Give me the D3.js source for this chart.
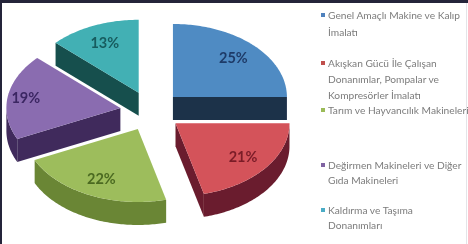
<!DOCTYPE html>
<html>
<head>
<meta charset="utf-8">
<script src="https://cdn.jsdelivr.net/npm/d3@7"></script>
<style>
  html, body { margin: 0; padding: 0; background: #ffffff; }
  svg { display: block; }
</style>
</head>
<body>
<svg id="chart" width="468" height="244"></svg>
<script>
// ---- data ----
const categories = [
  "Genel Amaçlı Makine ve Kalıp İmalatı",
  "Akışkan Gücü İle Çalışan Donanımlar, Pompalar ve Kompresörler İmalatı",
  "Tarım ve Hayvancılık Makineleri",
  "Değirmen Makineleri ve Diğer Gıda Makineleri",
  "Kaldırma ve Taşıma Donanımları"
];
const values = [25, 21, 22, 19, 13];
const valueLabels = ["25%", "21%", "22%", "19%", "13%"];
const legendLines = [
  ["Genel Amaçlı Makine ve Kalıp", "İmalatı"],
  ["Akışkan Gücü İle Çalışan", "Donanımlar,  Pompalar ve", "Kompresörler İmalatı"],
  ["Tarım ve Hayvancılık Makineleri"],
  ["Değirmen Makineleri ve Diğer", "Gıda Makineleri"],
  ["Kaldırma ve Taşıma", "Donanımları"]
];

// ---- styles ----
const topColors   = ["#4f8bc3", "#d4525a", "#9dbd5c", "#8a6cb0", "#42b0b4"];
const sideColors  = ["#1c3049", "#6b1f2e", "#6a8636", "#3f2c5c", "#15504d"];
const labelColors = ["#1f3b68", "#7a1c28", "#4b6a20", "#3b2662", "#185c5e"];
const markerColors = ["#4f81bd", "#c0504d", "#9bbb59", "#8064a2", "#4bacc6"];

const svg = d3.select("#chart");
svg.append("rect").attr("width", 468).attr("height", 244).attr("fill", "#ffffff");

const defs = svg.append("defs");
defs.append("filter").attr("id", "soft").attr("x", "-5%").attr("y", "-5%").attr("width", "110%").attr("height", "110%")
  .append("feGaussianBlur").attr("stdDeviation", 0.55);
defs.append("filter").attr("id", "softer").attr("x", "-5%").attr("y", "-20%").attr("width", "110%").attr("height", "140%")
  .append("feGaussianBlur").attr("stdDeviation", 0.45);

// 3D pie geometry
const cx = 151, cy = 111, rx = 114, ry = 73, depth = 23, explode = 31;
const k = ry / rx;

const pie = d3.pie().sort(null).value(d => d)(values);
const toTheta = a => a - Math.PI / 2; // d3 angle (0 = 12 o'clock) -> screen angle

const slices = pie.map((p, i) => {
  const t0 = toTheta(p.startAngle), t1 = toTheta(p.endAngle);
  const mid = (t0 + t1) / 2;
  const c = [cx + explode * Math.cos(mid), cy + explode * k * Math.sin(mid)];
  return { i, t0, t1, mid, c };
});

const pt = (c, t, dz = 0) => [c[0] + rx * Math.cos(t), c[1] + ry * Math.sin(t) + dz];
const arcPts = (c, a, b, dz = 0) => {
  const n = Math.max(2, Math.ceil(Math.abs(b - a) / (Math.PI / 180)));
  return d3.range(n + 1).map(j => pt(c, a + (b - a) * j / n, dz));
};
const line = d3.line();

const g = svg.append("g").attr("filter", "url(#soft)");
// draw back to front
const order = slices.slice().sort((a, b) => a.c[1] - b.c[1]);
order.forEach(s => {
  const { c, t0, t1, i } = s;
  const cb = [c[0], c[1] + depth];
  if (Math.cos(t0) < -1e-6) {
    const p = pt(c, t0), pb = pt(c, t0, depth);
    g.append("path").attr("d", line([c, p, pb, cb]) + "Z").attr("fill", sideColors[i]);
  }
  if (Math.cos(t1) > 1e-6) {
    const p = pt(c, t1), pb = pt(c, t1, depth);
    g.append("path").attr("d", line([c, p, pb, cb]) + "Z").attr("fill", sideColors[i]);
  }
  const a = Math.max(t0, 0), b = Math.min(t1, Math.PI);
  if (b > a) {
    const top = arcPts(c, a, b), bot = arcPts(c, a, b, depth).reverse();
    g.append("path").attr("d", line(top.concat(bot)) + "Z").attr("fill", sideColors[i]);
  }
  g.append("path").attr("d", line([c].concat(arcPts(c, t0, t1))) + "Z").attr("fill", topColors[i]);
  const lr = s.i === 3 ? 0.84 : 0.75;
  g.append("text")
    .attr("x", c[0] + lr * rx * Math.cos(s.mid))
    .attr("y", c[1] + lr * ry * Math.sin(s.mid))
    .attr("text-anchor", "middle")
    .attr("dy", "0.35em")
    .attr("font-family", "Lato, 'Open Sans', sans-serif")
    .attr("font-weight", "bold")
    .attr("font-size", 14.5)
    .attr("fill", labelColors[i])
    .text(valueLabels[i]);
});

// legend
const legendTop = [15, 63, 110, 165, 210];
const legendLH = [17, 16, 16, 15, 15];
const lg = svg.append("g").attr("filter", "url(#softer)")
  .attr("font-family", "Lato, 'Open Sans', sans-serif").attr("font-size", 10.2).attr("fill", "#7c7c7c");
categories.forEach((cat, i) => {
  lg.append("rect").attr("x", 321).attr("y", legendTop[i] - 2).attr("width", 4).attr("height", 4).attr("fill", markerColors[i]);
  legendLines[i].forEach((ln, j) => {
    lg.append("text").attr("x", 328).attr("y", legendTop[i] + j * legendLH[i]).attr("dy", "0.35em").text(ln);
  });
});

// photo frame
svg.append("rect").attr("x", 0).attr("y", 0).attr("width", 468).attr("height", 3).attr("fill", "#24243a");
svg.append("rect").attr("x", 0).attr("y", 0).attr("width", 2).attr("height", 244).attr("fill", "#24243a");
svg.append("rect").attr("x", 466).attr("y", 3).attr("width", 1).attr("height", 241).attr("fill", "#e4e4e8");
</script>
</body>
</html>
